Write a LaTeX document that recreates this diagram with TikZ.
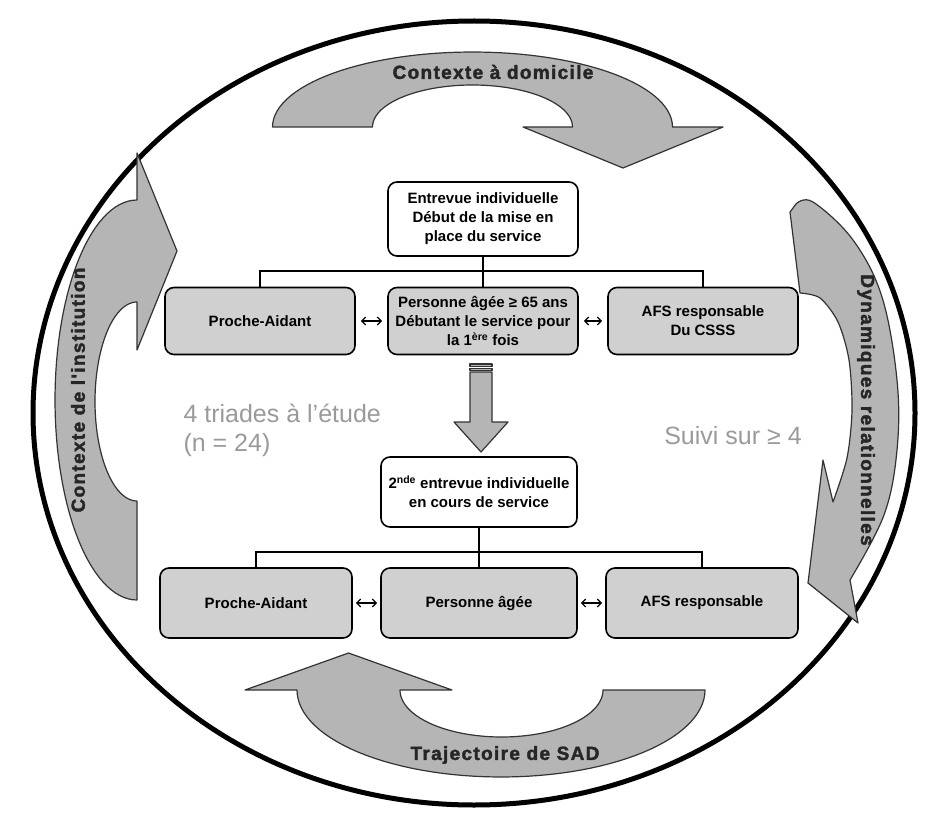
\documentclass[tikz,border=0pt]{standalone}
\usepackage{fontspec}
\setmainfont{Liberation Sans}
\newfontfamily\heavyfont{Liberation Sans}[BoldFeatures={FakeBold=2}, LetterSpace=7]
\usetikzlibrary{arrows.meta}
\definecolor{boxgray}{HTML}{D0D0D0}
\definecolor{arrowgray}{HTML}{B5B5B5}
\definecolor{notegray}{HTML}{9A9A9A}

\begin{document}
\begin{tikzpicture}[x=1pt, y=-1pt, >={Straight Barb[length=4pt,width=8pt]}, font=\fontsize{15}{19}\selectfont\bfseries]
  \tikzset{box/.style={draw, line width=1.6pt, rounded corners=9pt, minimum width=190pt, minimum height=67pt, align=center, inner sep=2pt},
    greybox/.style={box, fill=boxgray},
    whitebox/.style={box, fill=white},
    bendarrow/.style={draw=black!80, line width=1.2pt, fill=arrowgray, line join=round},
    bendlabel/.style={font=\heavyfont\fontsize{19}{22}\selectfont\bfseries, text=black!85},
    note/.style={font=\fontsize{25}{29}\selectfont\mdseries, text=notegray, align=left},
    bus/.style={line width=2.6pt},
    link/.style={<->, line width=1.3pt}}
  \useasboundingbox (0,0) rectangle (934,813);
  \draw[line width=5pt] (474,413) ellipse [x radius=441pt, y radius=392pt];

  % curved arrows round the study
  \path[bendarrow] (272.5,127)
    -- plot[domain=180:0, samples=60] ({472.5+200*cos(\x)}, {127-75*sin(\x)})
    -- (723,127) -- (623,168) -- (523,127) -- (572.5,127)
    -- plot[domain=0:180, samples=60] ({472.5+100*cos(\x)}, {127-42*sin(\x)}) -- cycle;
  \path[bendarrow] (705,690)
    -- plot[domain=0:-180, samples=60] ({501+204*cos(\x)}, {690-87*sin(\x)})
    -- (245,690) -- (348.5,653) -- (452,690) -- (400,690)
    -- plot[domain=-180:0, samples=60] ({501.5+101.5*cos(\x)}, {690-47*sin(\x)}) -- cycle;
  \path[bendarrow] (137,600)
    -- plot[domain=-90:-270, samples=60] ({137+82*cos(\x)}, {400-200*sin(\x)})
    -- (137,153) -- (177,251) -- (137,350) -- (137,302)
    -- plot[domain=-270:-90, samples=60] ({137+42*cos(\x)}, {401.5-99.5*sin(\x)}) -- cycle;
  \path[bendarrow] (790,212)
    -- plot[smooth, tension=0.6] coordinates {(796,204) (813,202) (853,240) (882,297) (897,380) (897,450) (884,515) (850,580)}
    -- (858,623) -- (808,583) -- (823,460) -- (833,502)
    -- plot[smooth] coordinates {(833,502) (847,458) (852,410) (849,360) (838,322) (820,298) (800,293)} -- cycle;

  \node[bendlabel] (dom) at (493,72) {Contexte à domicile};
  \node[bendlabel] (traj) at (505,755) {Trajectoire de SAD};
  \node[bendlabel, rotate=90] (inst) at (78,390) {Contexte de l'institution};
  \node[bendlabel, rotate=-90] (dyn) at (866,410) {Dynamiques relationnelles};

  % first interview
  \node[whitebox, minimum height=74pt] (tb) at (483,219) {Entrevue individuelle\\Début de la mise en\\place du service};
  \node[greybox] (pa1) at (260,321) {Proche-Aidant};
  \node[greybox] (pe1) at (483,321) {Personne âgée ≥ 65 ans\\Débutant le service pour\\la 1\textsuperscript{ère} fois};
  \node[greybox] (afs1) at (703,321) {AFS responsable\\Du CSSS};
  \coordinate (b1) at (483,271);
  \draw[bus] (tb) -- (b1);
  \draw[bus] (pa1.north) |- (b1) -| (afs1.north);
  \draw[bus] (b1) -- (pe1);
  \draw[link, shorten <=5pt, shorten >=5pt] (pa1) -- (pe1);
  \draw[link, shorten <=5pt, shorten >=5pt] (pe1) -- (afs1);

  % block arrow
  \path[bendarrow] (470,372) -- (492,372) -- (492,422) -- (508,422) -- (481,452) -- (454,422) -- (470,422) -- cycle;
  \path[bendarrow] (470,364) rectangle (492,366.5);
  \path[bendarrow] (470,368.5) rectangle (492,370.5);

  \node[note, anchor=west] (triades) at (180,430) {4 triades à l'étude\\(n = 24)};
  \node[note] (suivi) at (733,436) {Suivi sur ≥ 4};

  % second interview
  \node[whitebox, minimum width=196pt, minimum height=70pt] (sb) at (479,492) {2\textsuperscript{nde} entrevue individuelle\\en cours de service};
  \node[greybox, minimum width=192pt, minimum height=70pt] (pa2) at (256,603) {Proche-Aidant};
  \node[greybox, minimum width=196pt, minimum height=70pt] (pe2) at (479,603) {Personne âgée};
  \node[greybox, minimum width=192pt, minimum height=70pt] (afs2) at (702,603) {AFS responsable};
  \coordinate (b2) at (479,552);
  \draw[bus] (sb) -- (b2);
  \draw[bus] (pa2.north) |- (b2) -| (afs2.north);
  \draw[bus] (b2) -- (pe2);
  \draw[link, shorten <=3pt, shorten >=3pt] (pa2) -- (pe2);
  \draw[link, shorten <=3pt, shorten >=3pt] (pe2) -- (afs2);
\end{tikzpicture}
\end{document}
